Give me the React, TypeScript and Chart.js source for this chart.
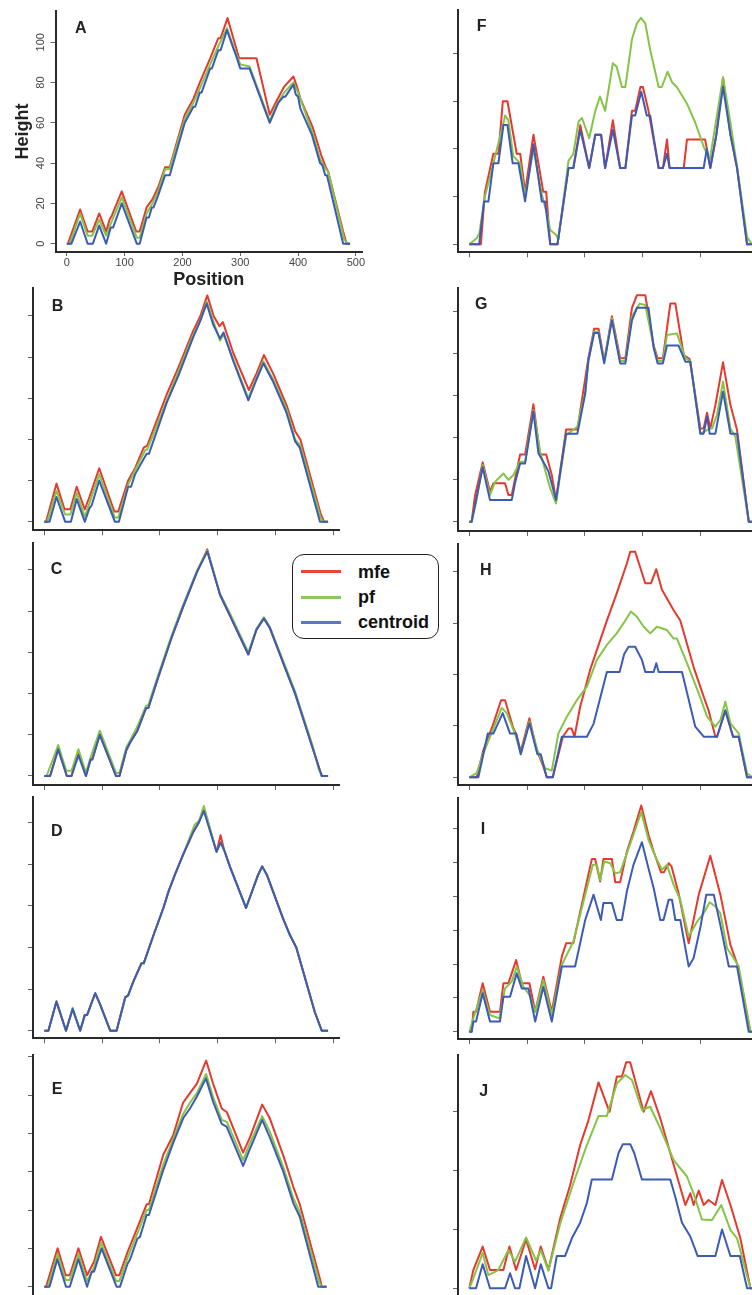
import React, { useEffect, useRef } from 'react';
import { Chart, registerables } from 'chart.js';

Chart.register(...registerables);

const FONT = '"Liberation Sans", Arial, Helvetica, sans-serif';

// ---------- series names, colours, tick labels ----------
const seriesNames = ['mfe', 'pf', 'centroid'];
const seriesColors = ['#e5392e', '#84c446', '#3b5bb7'];
const positionTicks = [0, 100, 200, 300, 400, 500];
const heightTicks60 = [0, 20, 40, 60];
const heightTicks80 = [0, 20, 40, 60, 80];
const heightTicks100 = [0, 20, 40, 60, 80, 100];
const heightTicks120 = [0, 20, 40, 60, 80, 100, 120];

type Pt = [number, number]; // [position, height]

// ---------- A ----------
const A_mfe: Pt[] = [[0,0],[2,0],[23,17],[36,6],[44,6],[56,15],[68,6],[74,12],[78,14],[95,26],[120,6],[126,6],[138,18],[148,22],[158,28],[170,38],[178,38],[204,64],[219,72],[230,80],[248,92],[262,102],[266,102],[278,112],[290,100],[298,92],[328,92],[351,64],[363,71],[376,78],[392,83],[398,78],[404,72],[425,58],[440,44],[448,38],[452,36],[478,6],[484,0],[490,0]];
const A_pf: Pt[] = [[0,0],[5,0],[23,15],[36,4],[44,4],[56,12],[68,4],[76,10],[95,23],[121,3],[126,3],[138,15],[148,20],[158,26],[170,37],[178,37],[204,62],[219,70],[230,77],[248,89],[262,98],[277,107],[288,98],[300,89],[316,88],[351,61],[363,69],[376,75],[392,80],[400,75],[424,56],[438,42],[448,37],[452,36],[480,2],[486,0],[490,0]];
const A_centroid: Pt[] = [[0,0],[8,0],[23,11],[36,0],[45,0],[56,9],[68,0],[76,8],[80,8],[95,20],[121,0],[126,0],[138,13],[142,13],[147,18],[150,18],[158,24],[170,34],[178,34],[204,60],[219,68],[222,68],[230,75],[233,75],[248,87],[251,87],[262,96],[266,96],[277,106],[288,97],[292,94],[300,87],[316,87],[351,60],[363,68],[366,70],[375,73],[378,73],[392,79],[396,74],[400,73],[404,67],[424,54],[430,48],[438,40],[442,39],[447,34],[450,34],[478,0],[490,0]];

// ---------- B ----------
const B_mfe: Pt[] = [[0,0],[3,0],[21,18.5],[35,6],[45,6],[56,17],[70,6],[78,12],[95,26],[121,5],[128,5],[145,20],[157,26],[172,36],[178,37],[212,62],[232,75],[258,93],[270,100],[282,110],[293,100],[303,95],[309,97],[327,82],[354,64],[367,72],[380,81],[396,72],[420,56],[434,44],[443,40],[478,4],[484,0],[491,0]];
const B_pf: Pt[] = [[0,0],[5,0],[21,15],[36,3.5],[45,3.5],[56,14],[70,2.5],[78,9],[95,23],[122,2],[128,2],[145,18],[157,25],[175,35],[178,35],[212,59],[232,73],[258,91],[270,98],[281,107],[293,97],[304,88],[310,91],[327,79],[353,60],[367,70],[379,78],[396,69],[420,54],[434,40],[443,37],[478,2],[483,0],[491,0]];
const B_centroid: Pt[] = [[0,0],[9,0],[21,12],[36,0],[46,0],[56,11],[70,0],[78,6.5],[82,8],[95,20],[122,0],[129,0],[145,17],[150,17],[157,23],[177,33],[181,33],[212,58],[232,71],[258,90],[269,97],[281,106],[292,96],[304,89],[310,92],[327,78],[353,59],[367,69],[379,77],[396,68],[419,53],[434,39],[442,36],[477,0],[491,0]];

// ---------- C ----------
const C_mfe: Pt[] = [[0,0],[10,0],[24,13],[39,0],[47,0],[59,11.5],[72,0],[80,8],[83,8],[96,20],[124,0],[130,0],[142,12.6],[148,16],[161,22],[176,33],[180,33],[196,47],[220,67],[240,82],[264,99],[282,110],[304,88],[321,78],[353,59],[367,71],[380,76.5],[390,72],[416,53],[434,40],[442,33],[465,13],[480,0],[491,0]];
const C_pf: Pt[] = [[0,0],[4,0],[24,15],[38,2.5],[47,2.5],[59,13],[72,1.5],[80,9],[96,22],[124,1.5],[130,1.5],[142,14],[148,17],[161,24],[176,34],[180,34.5],[196,48],[220,68],[240,83],[264,99.5],[282,109.4],[304,88.5],[321,79],[353,60],[367,71.5],[380,77],[390,72.5],[416,54],[434,41],[442,34],[465,14],[475,3],[482,0],[491,0]];
const C_centroid: Pt[] = [[0,0],[10,0],[24,13],[39,0],[47,0],[59,10],[72,0],[80,8],[83,8],[96,20],[124,0],[130,0],[142,12.6],[148,16],[161,22],[176,33],[180,33],[196,47],[220,67],[240,82],[264,99],[282,109],[304,88],[321,78],[353,59],[367,71],[380,76.5],[390,72],[416,53],[434,40],[442,33],[465,13],[480,0],[491,0]];

// ---------- D ----------
const D_mfe: Pt[] = [[0,0],[7,0],[21,14],[37.5,0],[49,10.4],[62,0],[70,7.5],[74,7.5],[88,18],[96,13],[114,0],[125,0],[140,16],[145,17],[154,23.6],[168,32.4],[172,32.4],[189,46],[206,59],[215,67],[226,75],[240,84.5],[258,95.7],[268,100.5],[276,107],[298,86],[305,94],[311,87],[321,79],[349,59],[370,75],[377,79],[385,75],[413,54],[425,46],[436,40],[468,9],[480,0],[491,0]];
const D_pf: Pt[] = [[0,0],[7,0],[21,14],[37.5,0],[49,11],[62,0],[70,7.5],[74,7.5],[88,18],[96,13],[114,0],[125,0],[140,16],[145,17],[154,23.6],[168,32.4],[172,32.4],[189,46],[206,59],[215,67],[226,75],[240,84.5],[260,99],[268,101],[276,108],[298,86],[305,90.5],[311,87],[321,79],[349,59],[370,75],[377,79],[385,75],[413,54],[425,46],[436,40],[468,9],[480,0],[491,0]];
const D_centroid: Pt[] = [[0,0],[7,0],[21,14],[37.5,0],[49,10.4],[62,0],[70,7.5],[74,7.5],[88,18],[96,13],[114,0],[125,0],[140,16],[145,17],[154,23.6],[168,32.4],[172,32.4],[189,46],[206,59],[215,67],[226,75],[240,84.5],[258,95.7],[268,100.5],[276,105.6],[298,86],[305,90.5],[311,87],[321,79],[349,59],[370,75],[377,79],[385,75],[413,54],[425,46],[436,40],[468,9],[480,0],[491,0]];

// ---------- E ----------
const E_mfe: Pt[] = [[0,0],[3,0],[23,20],[37,6],[44,6],[59,20],[74,6],[86,13],[98,26],[124,6],[130,6],[144,18],[160,30],[177,43],[181,43],[206,69],[223,79],[240,96],[252,101],[264,106],[280,118],[292,106],[307,93],[316,91],[344,70],[356,78],[377,95],[390,88],[414,68],[431,52],[442,43],[477,4],[480,0],[488,0]];
const E_pf: Pt[] = [[0,0],[6,0],[23,17],[37,3.5],[44,3.5],[59,17],[74,3],[86,10],[98,23],[124,3],[130,3],[144,15],[160,27],[177,40],[181,40],[206,64],[223,77],[240,90],[252,96],[264,101],[280,111],[292,99],[307,87],[316,86],[344,66],[356,75],[377,89],[390,81],[414,62],[431,46],[442,39],[476,2],[480,0],[488,0]];
const E_centroid: Pt[] = [[0,0],[9,0],[22.5,14.3],[37.5,0],[44,0],[59,14.3],[74,0],[82,7.8],[86,7.8],[99,20],[125,0],[131,0],[144,12],[148,14],[161,25],[165.5,26],[177,37.4],[181,37.4],[206,61],[223,75],[240.5,88],[252,93],[263.6,99],[279.7,108.7],[292,96.5],[307,85],[315.5,83.5],[344,63],[356,72],[377,87],[390,78],[413.5,60],[431,43.5],[442,36.5],[474,0],[488.5,0]];

// ---------- F ----------
const F_mfe: Pt[] = [[0,0],[20,0],[27,22],[41.6,38],[50.3,38],[58,60],[66,60],[82,38],[88,38],[96.5,22],[111,46],[128,22],[133,22],[140,0],[152.5,0],[171.6,32],[180,32],[192,50],[207.4,32],[218,46],[228,46],[235,32],[248.4,52],[261,32],[270,32],[281.4,56],[287,56],[296,66],[300.4,66],[310,56],[327.6,32],[335,32],[342,44],[346.6,32],[371,32],[376.6,44],[408,44],[417,32],[427.5,46],[439,70],[451.8,46],[463.3,32],[480.6,0],[490,0]];
const F_pf: Pt[] = [[0,0],[12.7,2.5],[17.3,4.6],[27,20],[41.6,34],[53,45],[62,54],[67.6,52],[76,37],[88,34],[96.5,20],[111,40],[125.4,21],[134,13],[140,6],[150,4],[154,2],[171.6,35],[180,38],[189,51.5],[195,53],[207.4,44.5],[218,56],[226,62],[235,56],[248.4,76],[255,74.5],[264,66],[270,66],[281.4,86],[290,92.7],[297,95],[304.5,92.7],[313,81.5],[327.6,66],[333,66],[343,72.4],[350.7,68],[359,66],[376.6,59],[391,51],[405.5,41],[416,35.4],[425.8,50],[439,70],[451.8,51],[463.3,32.6],[480.6,3],[489,0]];
const F_centroid: Pt[] = [[0,0],[17,0],[25.4,18],[33,18],[41.6,34],[50.3,34],[59,50],[66,50],[75,34],[85,34],[96.5,18],[111,42],[125.4,18],[131,18],[140,0],[152.5,0],[171.6,32],[180,32],[192,48],[207.4,32],[218,46],[228,46],[235,32],[248.4,48],[261,32],[270,32],[281.4,54],[287,54],[297.5,64],[307,54],[313,54],[327.6,32],[335,32],[342,38],[346.6,32],[405.5,32],[411,40],[417,32],[427.5,46],[439,66],[451.8,46],[463.3,32],[480.6,0],[490,0]];

// ---------- G ----------
const G_mfe: Pt[] = [[0,0],[4,0],[9.8,12.4],[23.1,28.3],[35.8,14.3],[41.6,18.3],[61.8,18.3],[67.6,12.7],[73.4,12.7],[87.8,32],[96.5,32],[110.9,56],[122.5,32],[133,32],[142.7,22.3],[150,10.3],[167.5,44],[187,44],[206,78],[216,92],[223.6,92],[233.4,76.6],[246.7,98],[261,78],[270,78],[281.4,102],[290,108],[304.5,108],[319,84],[325.8,78],[335,78],[347.8,104],[356.5,104],[371,79.5],[381.3,77.6],[399.8,44.5],[405.5,44.5],[411.3,52],[417,44.5],[425.8,55.6],[439,76],[451.8,55.6],[463.3,43.7],[483.5,0],[490,0]];
const G_pf: Pt[] = [[0,0],[4,0],[11.6,9],[23.1,27],[35.8,12.7],[44.5,19],[58.9,23],[67.6,20],[76.3,22.3],[87.8,28.6],[96.5,28.6],[110.9,53.3],[122.5,33.4],[139.8,16],[150,8.7],[167.5,41.3],[187,45.3],[200.5,62],[206,76.3],[216,90.6],[223.6,90.6],[233.4,76.3],[246.7,97],[261,76.6],[270,76.6],[281.4,97.8],[294.7,104],[304.5,103.3],[319,83.5],[325.8,76.6],[335,76.6],[342,89],[359.3,89.8],[373.8,78],[382.4,76.6],[399.8,42],[411.3,43.7],[420,44.5],[428.7,51],[439,66.8],[451.8,44.5],[460.4,40.5],[483.5,0],[490,0]];
const G_centroid: Pt[] = [[0,0],[4,0],[11.6,10.3],[23.1,26],[35.8,10.3],[73.4,10.3],[79,18.3],[87.8,27.8],[96.5,27.8],[110.9,52.5],[119.6,32.6],[128,28.6],[137,24],[150,10.3],[167.5,42],[187,42],[200.5,61],[206,77],[216,90],[223.6,90],[233.4,75.5],[246.7,96],[261,75.5],[270,75.5],[281.4,96],[290,102],[310,102],[319,83],[325.8,75.5],[335,75.5],[342,84],[362,84],[373.8,76.3],[382.4,76.3],[399.8,42],[405.5,42],[411.3,50],[416,42],[425.8,42],[439,62],[451.8,42],[463.3,42],[483.5,0],[490,0]];

// ---------- H ----------
const H_mfe: Pt[] = [[0,0],[12.7,0],[24.3,10.6],[38.7,19],[55,30],[61.8,30],[76.3,19],[81,17],[89,10],[104,23],[116.7,10.6],[128,4.2],[134,0],[144.4,0],[161.8,15.8],[171.6,19],[177,19],[182,15.8],[191.8,27.5],[209,41.8],[238,61],[255,71.6],[272.7,83.3],[278.4,87.8],[287,87.8],[304.5,75.5],[314.3,75.5],[323.5,81],[333.3,73],[353.6,65],[365,61],[388,43],[405.5,31.4],[414,26],[425.8,15.8],[428.7,15.8],[443,26],[456.4,15.8],[466.2,15.8],[480.6,0],[490,0]];
const H_pf: Pt[] = [[0,0],[12.7,1.6],[24.3,9.3],[41.6,19],[56,27],[64.7,25],[79,17],[89,9.3],[104,21.7],[117.8,10.6],[131,3.5],[142.7,2.6],[154,17],[168.7,23.6],[186,30],[203.4,35.3],[220.7,45.7],[238,51.5],[255,56],[270,61],[279.6,64.5],[290,62.5],[301.6,58.6],[313,56],[324.6,58.6],[342,57.3],[353.6,54],[359.3,54],[376.6,44.4],[397,32.7],[411.3,23.6],[425.8,19.7],[434.5,22.3],[443,29.4],[451.8,21],[466.2,17],[480.6,1.6],[490,0]];
const H_centroid: Pt[] = [[0,0],[15.6,0],[24.3,9],[31.8,17],[41.6,17],[57.8,25],[70.5,17],[81,17],[89,9],[104,21],[117.8,9],[123.6,9],[134,0],[144.4,0],[160,15.8],[203.4,15.8],[215,20.8],[238,41],[260,41],[268,48],[275.6,50.8],[287,50.8],[298.7,45.7],[304.5,41],[319,41],[323.5,44.4],[327.6,41],[368,41],[391,19.7],[405.5,15.8],[428.7,15.8],[443,26],[456.4,15.8],[466.2,15.8],[480.6,0],[490,0]];

// ---------- I ----------
const I_mfe: Pt[] = [[0,0],[4,0],[7,11.8],[11.6,11.8],[23.1,28.6],[35.8,11.8],[53,11.8],[59,28.6],[67.6,28.6],[81,42.4],[90.7,28.6],[104,28.6],[114,11.8],[128,32.5],[142.7,11.8],[160,44.4],[167.5,52.3],[180,52.3],[203.4,88.8],[212,102],[217.8,102],[226.4,88.8],[232,102],[246.7,102],[252.5,88.4],[261,88.4],[272.7,106.5],[284,118.3],[297.5,133.7],[310,116.4],[319,106.5],[331.6,94.3],[337,94.3],[345,99.6],[350,97.5],[362,82],[379.6,52.3],[397,81],[417,104],[434.4,81],[451.8,51.3],[465,38.5],[486.4,0],[490,0]];
const I_pf: Pt[] = [[0,0],[6.9,7.9],[23.1,24.7],[35.8,9.9],[52,7.9],[61.8,25.6],[73.4,29.6],[82,38.5],[93.6,26.6],[104,21.7],[114,11.8],[128,30.6],[142.7,9.9],[160,39.4],[180,53.3],[203.4,84.8],[213.7,98.6],[220.7,98.6],[226.4,89.7],[233.4,100.6],[243.8,99.6],[252.5,93.7],[261,94.3],[272.7,105.5],[284,116.4],[297.5,129.8],[310,113.4],[321.8,103.6],[333.3,95.7],[342,98.6],[353.6,86.8],[365,78],[379.6,56.2],[394,65],[405.5,70],[416,76.5],[425.8,74],[434.4,70],[446,49.3],[457.6,43.4],[466.2,38.5],[486.4,0],[490,0]];
const I_centroid: Pt[] = [[0,0],[4,0],[7,6],[11.6,6],[23.1,22.7],[35.8,6],[53,6],[59,20.7],[70.5,20.7],[82,34.5],[90.7,25.6],[102.3,25.6],[114,6],[128,26.6],[142.7,6],[160,38.5],[183,38.5],[200.5,66],[215,81],[227.6,66],[232,76],[246.7,76],[255,66],[264,66],[272.7,83],[284,98.6],[298.7,112],[310,96.6],[319,84.8],[330.4,66],[336,66],[345,78],[350.7,78],[356.5,66],[365,66],[379.6,38.5],[388,43.4],[400,62],[410,81],[423,81],[434.4,63],[449,38.5],[463.3,38.5],[483.5,0],[490,0]];

// ---------- J ----------
const J_mfe: Pt[] = [[0,0],[6.9,6.2],[23.1,14.2],[35.8,6.2],[58.9,6.2],[69.4,14.2],[80.9,6.2],[98.2,16.6],[113.8,6.5],[123.6,14.2],[136.9,6.2],[157.2,23.8],[174.4,35],[191.8,48.7],[206,57],[223.6,70],[242.6,60],[255.3,72],[264,72],[271.5,76.8],[278.4,76.8],[301.6,60],[314.3,67],[330.4,57.8],[353.6,42],[373.8,28.3],[382.4,32.3],[388.2,28.3],[397,33.2],[405.5,28.3],[414,30],[425.8,28.3],[437.3,36.8],[451.8,28.3],[469,17],[486.4,0],[490,0]];
const J_pf: Pt[] = [[0,0],[6.9,3.4],[23.1,12],[32.9,4.5],[50.3,6.2],[67.6,13],[79,9],[98.2,17.3],[115.5,9.4],[123.6,13],[136.9,6],[157.2,22],[180,35.7],[203.4,48.7],[223.6,58.6],[238,58.6],[255.3,69.6],[269.8,72.5],[281.4,70.8],[298.7,60.6],[313,61.7],[330.4,54.4],[353.6,43.6],[376.6,38],[388,32.3],[402.5,23.4],[420,23.2],[436,28.3],[451.8,19.8],[463.3,17],[486.4,0],[490,0]];
const J_centroid: Pt[] = [[0,0],[11.6,0],[23.1,8.2],[35.8,0],[61.8,0],[70.5,5.1],[79,0],[86.7,0],[98.2,11],[113.8,0],[123.6,8.2],[136.9,0],[141.5,0],[151.4,11],[165.8,11],[177.4,17],[191.8,22.3],[203.4,29],[212,37],[246.7,37],[258.2,46],[265.7,49],[278.4,49],[285.3,46],[298.7,37],[347.8,37],[356.4,31],[368,22.3],[382.4,17.6],[395,11],[425.8,11],[437.3,20],[451.8,11],[468,11],[480.6,0],[490,0]];

// ---------- layout of the ten panels (page pixels) ----------
const X_RANGE = [-19.6, 510.6];

type PanelCfg = {
  letter: string;
  series: Pt[][];
  yTicks: number[];
  box: { l: number; r: number; t: number; b: number };
  yRange: [number, number];
  letterAt: [number, number];
  labeled?: boolean;
  col: 0 | 1;
};

const PANELS: PanelCfg[] = [
  { letter: 'A', series: [A_mfe, A_pf, A_centroid], yTicks: heightTicks100, box: { l: 55.5, r: 362, t: 11, b: 252 }, yRange: [-4.12, 115.5], letterAt: [75, 19.7], labeled: true, col: 0 },
  { letter: 'B', series: [B_mfe, B_pf, B_centroid], yTicks: heightTicks100, box: { l: 33, r: 339.4, t: 288, b: 530.3 }, yRange: [-4.18, 113.6], letterAt: [51.7, 298], col: 0 },
  { letter: 'C', series: [C_mfe, C_pf, C_centroid], yTicks: heightTicks100, box: { l: 33, r: 339.4, t: 543.3, b: 785 }, yRange: [-4.37, 112.96], letterAt: [50.7, 561.3], col: 0 },
  { letter: 'D', series: [D_mfe, D_pf, D_centroid], yTicks: heightTicks100, box: { l: 33, r: 339.4, t: 796.7, b: 1038.3 }, yRange: [-3.65, 112.5], letterAt: [51, 823], col: 0 },
  { letter: 'E', series: [E_mfe, E_pf, E_centroid], yTicks: heightTicks120, box: { l: 33, r: 339.4, t: 1055, b: 1295.5 }, yRange: [-4.6, 120.9], letterAt: [51.7, 1081.3], col: 0 },
  { letter: 'F', series: [F_mfe, F_pf, F_centroid], yTicks: heightTicks80, box: { l: 458, r: 764.4, t: 10, b: 252.3 }, yRange: [-3.36, 98.3], letterAt: [476.7, 18], col: 1 },
  { letter: 'G', series: [G_mfe, G_pf, G_centroid], yTicks: heightTicks100, box: { l: 458, r: 764.4, t: 288.3, b: 531 }, yRange: [-4.43, 111.3], letterAt: [475, 296.3], col: 1 },
  { letter: 'H', series: [H_mfe, H_pf, H_centroid], yTicks: heightTicks80, box: { l: 458, r: 764.4, t: 544, b: 785 }, yRange: [-3.0, 90.8], letterAt: [480, 562.3], col: 1 },
  { letter: 'I', series: [I_mfe, I_pf, I_centroid], yTicks: heightTicks120, box: { l: 458, r: 764.4, t: 797.7, b: 1039 }, yRange: [-4.31, 138.3], letterAt: [480.7, 821.3], col: 1 },
  { letter: 'J', series: [J_mfe, J_pf, J_centroid], yTicks: heightTicks60, box: { l: 458, r: 764.4, t: 1055, b: 1297 }, yRange: [-2.96, 79.3], letterAt: [479.3, 1083], col: 1 },
];

function geometry(p: PanelCfg) {
  const canvasLeft = p.col === 0 ? 0 : 420;
  const yW = p.box.l - canvasLeft;
  const xH = p.labeled ? 40 : 12;
  const canvasTop = Math.floor(p.box.t) - 8;
  const padTop = p.box.t - canvasTop;
  const W = Math.ceil(p.box.r) + 10 - canvasLeft;
  const padRight = canvasLeft + W - p.box.r;
  const H = Math.ceil(p.box.b) + xH + 2 - canvasTop;
  const padBottom = canvasTop + H - p.box.b - xH;
  return { canvasLeft, canvasTop, W, H, yW, xH, padTop, padRight, padBottom };
}

function Panel({ cfg }: { cfg: PanelCfg }) {
  const ref = useRef<HTMLCanvasElement | null>(null);
  const g = geometry(cfg);

  useEffect(() => {
    if (!ref.current) return;
    const labeled = !!cfg.labeled;
    const tickFont = { family: FONT, size: 11 };
    const titleFont = { family: FONT, size: 18, weight: 'bold' as const };
    const chart = new Chart(ref.current, {
      type: 'line',
      data: {
        datasets: cfg.series.map((s, i) => ({
          label: seriesNames[i],
          data: s.map(([x, y]) => ({ x, y })),
          borderColor: seriesColors[i],
          backgroundColor: seriesColors[i],
          borderWidth: 2,
          pointRadius: 0,
          pointHoverRadius: 0,
          tension: 0,
          fill: false,
          borderJoinStyle: 'round' as const,
          order: 3 - i,
        })),
      },
      options: {
        animation: false,
        responsive: false,
        devicePixelRatio: 1,
        events: [],
        layout: { padding: { left: 0, top: g.padTop, right: g.padRight, bottom: g.padBottom } },
        plugins: { legend: { display: false }, tooltip: { enabled: false }, title: { display: false } },
        scales: {
          x: {
            type: 'linear',
            position: 'bottom',
            min: X_RANGE[0],
            max: X_RANGE[1],
            afterBuildTicks: (s: any) => { s.ticks = positionTicks.map((v) => ({ value: v })); },
            afterFit: (s: any) => { s.height = g.xH; },
            ticks: { display: labeled, font: tickFont, color: '#444', padding: 0, maxRotation: 0, autoSkip: false },
            grid: { display: true, drawOnChartArea: false, drawTicks: true, tickLength: labeled ? 4 : 5, color: '#666', tickColor: '#666', tickWidth: 1 },
            border: { display: true, color: '#2a2a2a', width: 2 },
            title: labeled
              ? { display: true, text: 'Position', font: titleFont, color: '#222', padding: { top: 0, bottom: 1 } }
              : { display: false },
          },
          y: {
            type: 'linear',
            position: 'left',
            min: cfg.yRange[0],
            max: cfg.yRange[1],
            afterBuildTicks: (s: any) => { s.ticks = cfg.yTicks.map((v) => ({ value: v })); },
            afterFit: (s: any) => { s.width = g.yW; },
            ticks: { display: labeled, font: tickFont, color: '#444', padding: 0, minRotation: 90, maxRotation: 90, crossAlign: 'center', autoSkip: false },
            grid: { display: true, drawOnChartArea: false, drawTicks: true, tickLength: 5, color: '#666', tickColor: '#666', tickWidth: 1 },
            border: { display: true, color: '#2a2a2a', width: 2 },
            title: labeled
              ? { display: true, text: 'Height', font: titleFont, color: '#222', padding: { top: 12, bottom: 0 } }
              : { display: false },
          },
        },
      },
    } as any);
    return () => chart.destroy();
  }, []);

  return (
    <canvas
      ref={ref}
      width={g.W}
      height={g.H}
      style={{ position: 'absolute', left: g.canvasLeft, top: g.canvasTop, width: g.W, height: g.H }}
    />
  );
}

const legendRows = [
  { name: seriesNames[0], color: '#e8453b', y: 571.7 },
  { name: seriesNames[1], color: '#8cc85a', y: 597.3 },
  { name: seriesNames[2], color: '#5a78c8', y: 622.3 },
];

export default function App() {
  return (
    <div
      style={{
        position: 'absolute',
        left: 0,
        top: 0,
        width: 752,
        height: 1295,
        overflow: 'hidden',
        background: '#ffffff',
        fontFamily: FONT,
      }}
    >
      {PANELS.map((p) => (
        <Panel key={p.letter} cfg={p} />
      ))}
      {PANELS.map((p) => (
        <div
          key={'lbl' + p.letter}
          style={{
            position: 'absolute',
            left: p.letterAt[0],
            top: p.letterAt[1],
            fontSize: 16,
            lineHeight: '16px',
            fontWeight: 'bold',
            color: '#222',
          }}
        >
          {p.letter}
        </div>
      ))}
      <div
        style={{
          position: 'absolute',
          left: 292,
          top: 554,
          width: 147,
          height: 85,
          boxSizing: 'border-box',
          border: '1.5px solid #222',
          borderRadius: 12,
          background: '#fff',
        }}
      />
      {legendRows.map((r) => (
        <React.Fragment key={r.name}>
          <div style={{ position: 'absolute', left: 301, top: r.y - 1.5, width: 40, height: 3, background: r.color }} />
          <div
            style={{
              position: 'absolute',
              left: 358,
              top: r.y - 11,
              height: 22,
              lineHeight: '22px',
              fontSize: 18,
              fontWeight: 'bold',
              color: '#111',
            }}
          >
            {r.name}
          </div>
        </React.Fragment>
      ))}
    </div>
  );
}
